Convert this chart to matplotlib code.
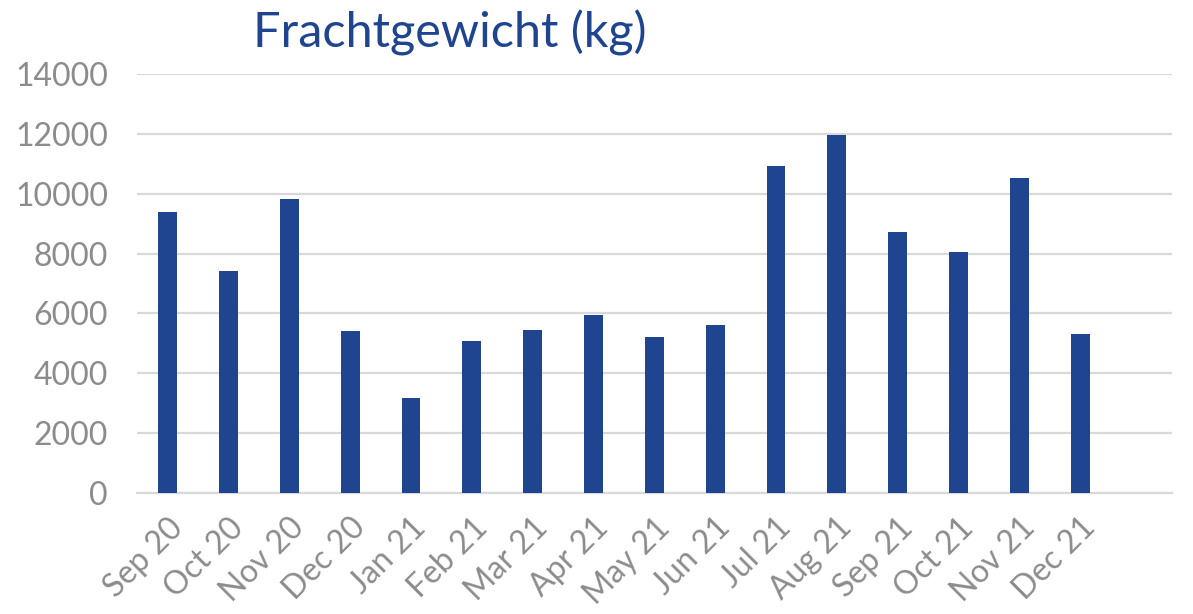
import matplotlib.pyplot as plt
import numpy as np

# monthly freight weight (kg)
months = ['Sep 20', 'Oct 20', 'Nov 20', 'Dec 20', 'Jan 21', 'Feb 21', 'Mar 21', 'Apr 21',
          'May 21', 'Jun 21', 'Jul 21', 'Aug 21', 'Sep 21', 'Oct 21', 'Nov 21', 'Dec 21']
weight = [9380, 7430, 9840, 5430, 3180, 5080, 5450, 5950,
          5220, 5620, 10920, 11950, 8720, 8050, 10520, 5310]
yticks = [0, 2000, 4000, 6000, 8000, 10000, 12000, 14000]

plt.rcParams['font.family'] = ['Lato', 'DejaVu Sans']

fig = plt.figure(figsize=(11.93, 6.14), dpi=100)
ax = fig.add_axes([0.115, 0.197, 0.867, 0.6825])

x = np.arange(len(months))
ax.bar(x, weight, width=0.31, color='#1F4591', zorder=3)

# one empty slot after the last month, as in the original
ax.set_xlim(-0.5, len(months) + 0.5)
ax.set_ylim(0, 14000)
ax.set_yticks(yticks)
ax.set_yticklabels([str(v) for v in yticks])
ax.set_xticks(x)
ax.set_xticklabels(months, rotation=45, ha='right', rotation_mode='anchor')

ax.grid(axis='y', color='#d9d9d9', linewidth=1.6, zorder=0)
for s in ['top', 'right', 'left']:
    ax.spines[s].set_visible(False)
ax.spines['bottom'].set_color('#d9d9d9')
ax.spines['bottom'].set_linewidth(1.6)
ax.tick_params(axis='both', length=0, colors='#8c8c8c', labelsize=23)
ax.tick_params(axis='y', pad=21)
ax.tick_params(axis='x', pad=14)

fig.text(0.377, 0.946, 'Frachtgewicht (kg)', fontsize=35, color='#1F4591',
         ha='center', va='center')

fig.savefig('out.png', dpi=100)
